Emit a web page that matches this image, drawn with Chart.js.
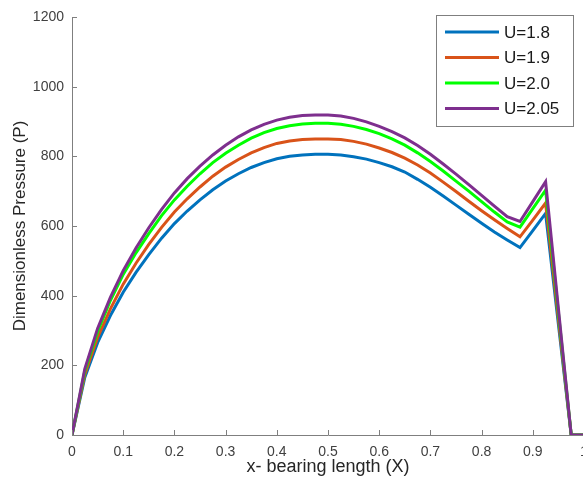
<!DOCTYPE html>
<html lang="en">
<head>
    <meta charset="UTF-8">
    <title>Dimensionless Pressure</title>
    <script src="https://cdn.jsdelivr.net/npm/chart.js"></script>
    <style>
        html, body {
            margin: 0;
            padding: 0;
            background: #ffffff;
            overflow: hidden;
        }
        .wrap {
            width: 600px;
            height: 489px;
        }
    </style>
</head>
<body>
    <div class="wrap">
        <canvas id="chart" width="600" height="489"></canvas>
    </div>

    <script>
        // x positions along the bearing
        const xValues = [0, 0.025, 0.05, 0.075, 0.1, 0.125, 0.15, 0.175, 0.2, 0.225,
            0.25, 0.275, 0.3, 0.325, 0.35, 0.375, 0.4, 0.425, 0.45, 0.475,
            0.5, 0.525, 0.55, 0.575, 0.6, 0.625, 0.65, 0.675, 0.7, 0.725,
            0.75, 0.775, 0.8, 0.825, 0.85, 0.875, 0.9, 0.925, 0.95, 0.975, 1];

        const labels = ['U=1.8', 'U=1.9', 'U=2.0', 'U=2.05'];

        const pU18 = [0, 165, 265, 343, 410, 467, 518, 565, 607, 643,
            675, 704, 729, 750, 768, 782, 793, 800, 804, 806,
            806, 804, 799, 792, 782, 770, 755, 734, 711, 686,
            660, 634, 608, 583, 560, 538, 587, 636, 318, 0, 0];
        const pU19 = [0, 174, 280, 362, 433, 493, 547, 596, 640, 678,
            712, 743, 769, 791, 810, 825, 837, 844, 848, 850,
            850, 848, 843, 835, 824, 811, 795, 775, 752, 726,
            699, 671, 644, 618, 593, 569, 617, 666, 333, 0, 0];
        const pU20 = [0, 184, 297, 386, 461, 523, 578, 630, 675, 714,
            750, 782, 809, 832, 852, 868, 880, 888, 893, 895,
            895, 892, 886, 877, 865, 850, 832, 810, 785, 758,
            729, 700, 670, 640, 612, 597, 650, 703, 352, 0, 0];
        const pU205 = [0, 190, 306, 395, 472, 537, 595, 648, 695, 736,
            772, 804, 832, 856, 876, 892, 904, 912, 917, 919,
            919, 916, 909, 899, 886, 871, 853, 831, 806, 778,
            749, 719, 688, 657, 627, 613, 670, 727, 363, 0, 0];

        const xTicks = [0, 0.1, 0.2, 0.3, 0.4, 0.5, 0.6, 0.7, 0.8, 0.9, 1];
        const yTicks = [0, 200, 400, 600, 800, 1000, 1200];

        const colors = ['#0072BD', '#D95319', '#00FF00', '#7E2F8E'];
        const series = [pU18, pU19, pU20, pU205];

        const axisGrey = '#7f7f7f';
        const textGrey = '#404040';
        const fontFamily = '"Liberation Sans", Arial, sans-serif';

        // MATLAB style ticks pointing into the plot
        const innerTicks = {
            id: 'innerTicks',
            afterDraw(chart) {
                const ctx = chart.ctx;
                const xs = chart.scales.x;
                const ys = chart.scales.y;
                ctx.save();
                ctx.strokeStyle = axisGrey;
                ctx.lineWidth = 1;
                xTicks.forEach(v => {
                    const px = Math.round(xs.getPixelForValue(v)) + 0.5;
                    ctx.beginPath();
                    ctx.moveTo(px, ys.bottom);
                    ctx.lineTo(px, ys.bottom - 5);
                    ctx.stroke();
                });
                yTicks.forEach(v => {
                    const py = Math.round(ys.getPixelForValue(v)) + 0.5;
                    ctx.beginPath();
                    ctx.moveTo(xs.left, py);
                    ctx.lineTo(xs.left + 5, py);
                    ctx.stroke();
                });
                ctx.restore();
            }
        };

        // boxed legend in the top right corner
        const boxLegend = {
            id: 'boxLegend',
            afterDraw(chart) {
                const ctx = chart.ctx;
                const left = 436, top = 15, w = 137, h = 111;
                ctx.save();
                ctx.fillStyle = '#ffffff';
                ctx.fillRect(left, top, w, h);
                ctx.strokeStyle = axisGrey;
                ctx.lineWidth = 1;
                ctx.strokeRect(left + 0.5, top + 0.5, w, h);
                ctx.font = '17px ' + fontFamily;
                ctx.textBaseline = 'middle';
                ctx.fillStyle = '#1a1a1a';
                labels.forEach((lab, i) => {
                    const y = 32 + i * 25.5;
                    ctx.strokeStyle = colors[i];
                    ctx.lineWidth = 3;
                    ctx.beginPath();
                    ctx.moveTo(445, y);
                    ctx.lineTo(499, y);
                    ctx.stroke();
                    ctx.fillText(lab, 504, y + 1);
                });
                ctx.restore();
            }
        };

        const datasets = series.map((s, i) => ({
            label: labels[i],
            data: xValues.map((x, j) => ({ x: x, y: s[j] })),
            borderColor: colors[i],
            borderWidth: 3,
            pointRadius: 0,
            tension: 0,
            fill: false,
            order: series.length - i
        }));

        const ctx = document.getElementById('chart').getContext('2d');
        new Chart(ctx, {
            type: 'line',
            data: { datasets: datasets },
            options: {
                responsive: false,
                animation: false,
                layout: { padding: { top: 17, right: 16, left: 0, bottom: 0 } },
                plugins: {
                    legend: { display: false },
                    tooltip: { enabled: false }
                },
                scales: {
                    x: {
                        type: 'linear',
                        min: 0,
                        max: 1,
                        afterBuildTicks: scale => { scale.ticks = xTicks.map(v => ({ value: v })); },
                        afterFit: scale => { scale.height = 54; },
                        grid: { display: false, drawTicks: false },
                        border: { display: true, color: axisGrey, width: 1 },
                        ticks: {
                            color: textGrey,
                            padding: 9,
                            maxRotation: 0,
                            font: { family: fontFamily, size: 14 },
                            callback: v => String(v)
                        },
                        title: {
                            display: true,
                            text: 'x- bearing length (X)',
                            color: '#262626',
                            padding: { top: 2, bottom: 11 },
                            font: { family: fontFamily, size: 18 }
                        }
                    },
                    y: {
                        min: 0,
                        max: 1200,
                        afterBuildTicks: scale => { scale.ticks = yTicks.map(v => ({ value: v })); },
                        afterFit: scale => { scale.width = 72; },
                        grid: { display: false, drawTicks: false },
                        border: { display: true, color: axisGrey, width: 1 },
                        ticks: {
                            color: textGrey,
                            padding: 8,
                            font: { family: fontFamily, size: 14 },
                            callback: v => String(v)
                        },
                        title: {
                            display: true,
                            text: 'Dimensionless Pressure (P)',
                            color: '#262626',
                            padding: { top: 10, bottom: 4 },
                            font: { family: fontFamily, size: 17 }
                        }
                    }
                }
            },
            plugins: [innerTicks, boxLegend]
        });
    </script>
</body>
</html>
